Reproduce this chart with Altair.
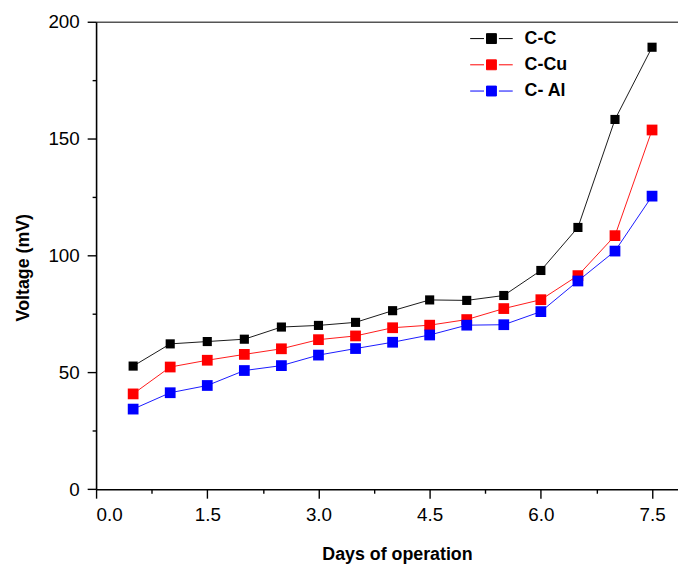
import altair as alt
import pandas as pd

# ---- data ----
days = [0.5, 1.0, 1.5, 2.0, 2.5, 3.0, 3.5, 4.0, 4.5, 5.0, 5.5, 6.0, 6.5, 7.0, 7.5]
c_c = [52.7, 62.2, 63.2, 64.2, 69.4, 70.1, 71.4, 76.4, 81.0, 80.8, 82.9, 93.6, 112.0, 158.2, 189.1]
c_cu = [40.8, 52.3, 55.2, 57.7, 60.1, 64.0, 65.6, 69.1, 70.2, 72.6, 77.3, 81.1, 91.4, 108.5, 153.7]
c_al = [34.3, 41.3, 44.4, 50.8, 52.9, 57.4, 60.2, 62.9, 66.0, 70.2, 70.4, 76.0, 89.1, 101.9, 125.4]

series_names = ["C-C", "C-Cu", "C- Al"]
series_colors = ["#000000", "#ff0000", "#0000ff"]

x_major = [0.0, 1.5, 3.0, 4.5, 6.0, 7.5]
x_minor = [0.75, 2.25, 3.75, 5.25, 6.75]
y_major = [0, 50, 100, 150, 200]
y_minor = [25, 75, 125, 175]

rows = []
for name, vals in zip(series_names, [c_c, c_cu, c_al]):
    for d, v in zip(days, vals):
        rows.append({"day": d, "voltage": v, "series": name})
df = pd.DataFrame(rows)

FONT = "Liberation Sans"
x_scale = alt.Scale(domain=[0, 7.85], nice=False, zero=False)
y_scale = alt.Scale(domain=[0, 200], nice=False, zero=False)
col_scale = alt.Scale(domain=series_names, range=series_colors)

legend_path = "M-2,0H-0.7M0.7,0H2M-0.465,-0.465H0.465V0.465H-0.465Z"
leg = alt.Legend(title=None, orient="none", legendX=388, legendY=5.5,
                 symbolType=legend_path, symbolSize=462,
                 symbolStrokeWidth=1, labelOffset=22, rowPadding=5.5,
                 padding=0, labelFont=FONT, labelFontSize=18,
                 labelFontWeight="bold", labelColor="#000000")

base = alt.Chart(df)

lines = base.mark_line(strokeWidth=0.9).encode(
    x=alt.X("day:Q", scale=x_scale,
            axis=alt.Axis(values=x_major, format=".1f", title="Days of operation",
                          tickSize=9, labelPadding=8, titleX=304, titleY=71,
                          titleBaseline="alphabetic", titleAlign="center")),
    y=alt.Y("voltage:Q", scale=y_scale,
            axis=alt.Axis(values=y_major, title="Voltage (mV)", tickSize=9, labelPadding=8,
                          titleX=-68, titleY=248, titleAngle=270,
                          titleBaseline="alphabetic", titleAlign="center")),
    color=alt.Color("series:N", scale=col_scale, legend=leg),
)

# red and blue markers (slightly larger), carrying the minor-tick axes
points = base.transform_filter(alt.datum.series != "C-C").mark_point(
    shape="square", filled=True, size=118, opacity=1
).encode(
    x=alt.X("day:Q", scale=x_scale,
            axis=alt.Axis(values=x_minor, orient="bottom", tickSize=4, labels=False,
                          domain=False, title=None)),
    y=alt.Y("voltage:Q", scale=y_scale,
            axis=alt.Axis(values=y_minor, orient="left", tickSize=4, labels=False,
                          domain=False, title=None)),
    color=alt.Color("series:N", scale=col_scale, legend=leg),
)

# black markers (slightly smaller), drawn on top
points_cc = base.transform_filter(alt.datum.series == "C-C").mark_point(
    shape="square", filled=True, size=85, opacity=1
).encode(
    x=alt.X("day:Q", scale=x_scale, axis=None),
    y=alt.Y("voltage:Q", scale=y_scale, axis=None),
    color=alt.Color("series:N", scale=col_scale, legend=leg),
)

top = base.mark_point(opacity=0).encode(
    x=alt.X("day:Q", scale=x_scale,
            axis=alt.Axis(orient="top", ticks=False, labels=False, domain=True,
                          title=None, domainColor="#555555")),
    y=alt.Y("voltage:Q", scale=y_scale, axis=None),
)

chart = alt.layer(lines, points, points_cc, top).resolve_axis(
    x="independent", y="independent"
).properties(
    width=588, height=472.4,
    autosize=alt.AutoSizeParams(type="none"),
    padding={"left": 89, "top": 11, "right": 0, "bottom": 73},
    background="#ffffff",
).configure_view(stroke=None).configure_axis(
    grid=False, domainColor="#000000", domainWidth=1.6, tickColor="#000000", tickWidth=1.4,
    labelFont=FONT, labelFontSize=19, labelColor="#000000",
    titleFont=FONT, titleFontSize=18, titleFontWeight="bold", titleColor="#000000",
)

chart.save("out.html", embed_options={"renderer": "svg", "actions": False})
